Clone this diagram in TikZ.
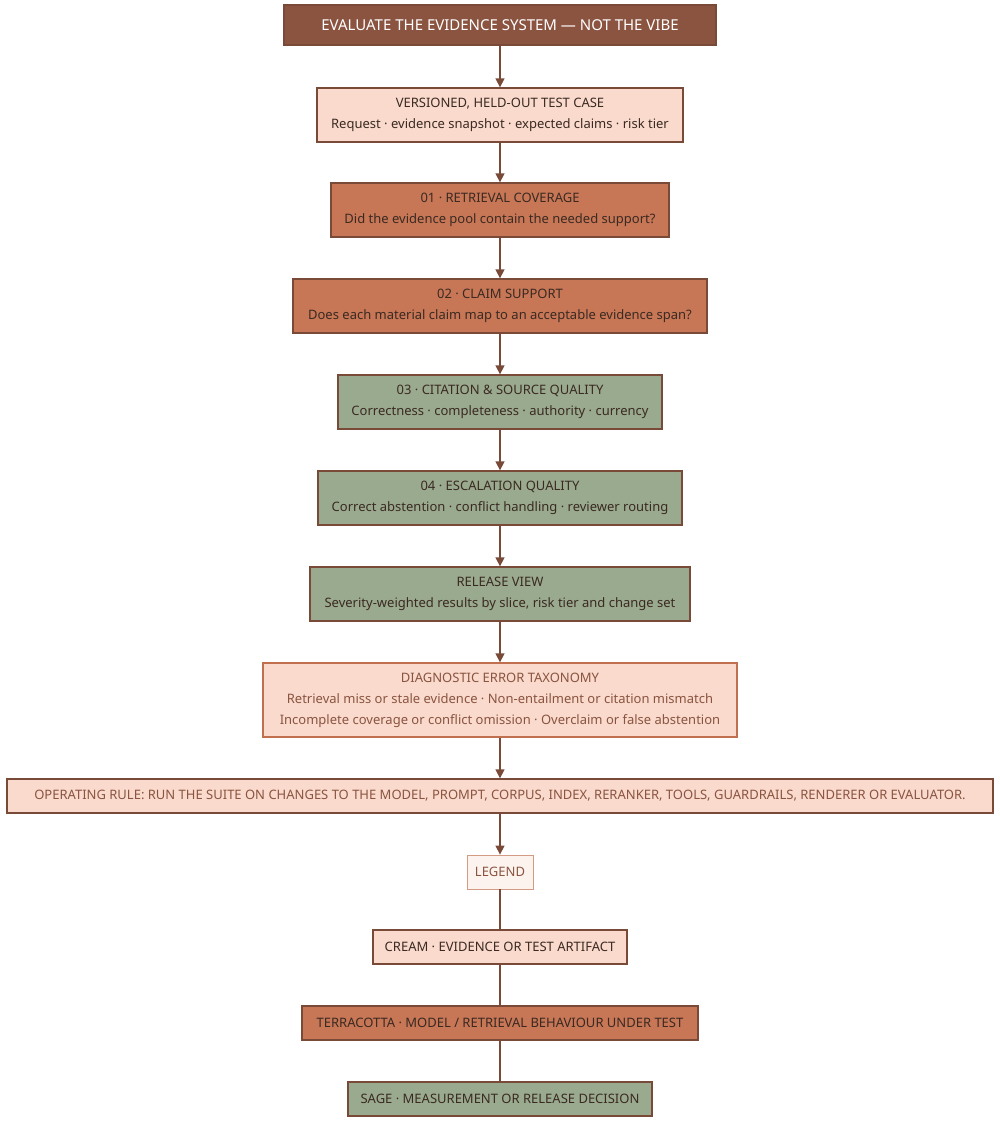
\documentclass[tikz,border=0pt]{standalone}
\usepackage{fontspec}
\setmainfont{Noto Sans}
\usetikzlibrary{arrows.meta}
\definecolor{brownline}{HTML}{7A4A38}
\definecolor{titlefill}{HTML}{8A5441}
\definecolor{creamfill}{HTML}{F9DACC}
\definecolor{terrafill}{HTML}{C77656}
\definecolor{sagefill}{HTML}{9AAA8F}
\definecolor{legendfill}{HTML}{FDF3EE}
\definecolor{taxline}{HTML}{C0704F}
\definecolor{taxtext}{HTML}{8A5441}
\definecolor{darktext}{HTML}{3A2A22}
\tikzset{
  box/.style={draw=brownline, line width=1.3pt, align=center, inner sep=0pt,
    font=\fontsize{13}{21}\selectfont, text=darktext},
  cream/.style={box, fill=creamfill},
  terra/.style={box, fill=terrafill},
  sage/.style={box, fill=sagefill},
  flow/.style={draw=brownline, line width=1.3pt, -{Triangle[length=9pt,width=9pt]}},
  link/.style={draw=brownline, line width=1.3pt}
}
\begin{document}
\begin{tikzpicture}[x=1pt,y=-1pt]
\useasboundingbox (0,0) rectangle (1000,1122);
\node[box, fill=titlefill, text=white, font=\fontsize{15}{18}\selectfont\bfseries,
  minimum width=432, minimum height=40] (title) at (500,25) {EVALUATE THE EVIDENCE SYSTEM — NOT THE VIBE};
\node[cream, minimum width=366, minimum height=54] (case) at (500,115)
  {VERSIONED, HELD-OUT TEST CASE\\Request · evidence snapshot · expected claims · risk tier};
\node[terra, minimum width=338, minimum height=54] (retr) at (500,210)
  {01 · RETRIEVAL COVERAGE\\Did the evidence pool contain the needed support?};
\node[terra, minimum width=414, minimum height=54] (claim) at (500,306)
  {02 · CLAIM SUPPORT\\Does each material claim map to an acceptable evidence span?};
\node[sage, minimum width=324, minimum height=54] (cite) at (500,402)
  {03 · CITATION \& SOURCE QUALITY\\Correctness · completeness · authority · currency};
\node[sage, minimum width=364, minimum height=54] (esc) at (500,498)
  {04 · ESCALATION QUALITY\\Correct abstention · conflict handling · reviewer routing};
\node[sage, minimum width=380, minimum height=54] (rel) at (500,594)
  {RELEASE VIEW\\Severity-weighted results by slice, risk tier and change set};
\node[cream, draw=taxline, text=taxtext, minimum width=474, minimum height=74] (tax) at (500,700)
  {DIAGNOSTIC ERROR TAXONOMY\\Retrieval miss or stale evidence · Non-entailment or citation mismatch\\Incomplete coverage or conflict omission · Overclaim or false abstention};
\node[cream, text=taxtext, minimum width=986, minimum height=34] (rule) at (500,796)
  {OPERATING RULE: RUN THE SUITE ON CHANGES TO THE MODEL, PROMPT, CORPUS, INDEX, RERANKER, TOOLS, GUARDRAILS, RENDERER OR EVALUATOR.};
\node[box, fill=legendfill, draw=taxline!70, line width=0.8pt, text=taxtext, minimum width=66, minimum height=34] (legend) at (500,872) {LEGEND};
\node[cream, minimum width=254, minimum height=34] (lcream) at (500,947) {CREAM · EVIDENCE OR TEST ARTIFACT};
\node[terra, minimum width=396, minimum height=34] (lterra) at (500,1023) {TERRACOTTA · MODEL / RETRIEVAL BEHAVIOUR UNDER TEST};
\node[sage, minimum width=304, minimum height=34] (lsage) at (500,1099) {SAGE · MEASUREMENT OR RELEASE DECISION};
% main flow
\foreach \a/\b in {title/case, case/retr, retr/claim, claim/cite, cite/esc, esc/rel, rel/tax, tax/rule, rule/legend}
  \draw[flow] (\a) -- (\b);
% legend chain
\foreach \a/\b in {legend/lcream, lcream/lterra, lterra/lsage}
  \draw[link] (\a) -- (\b);
\end{tikzpicture}
\end{document}
